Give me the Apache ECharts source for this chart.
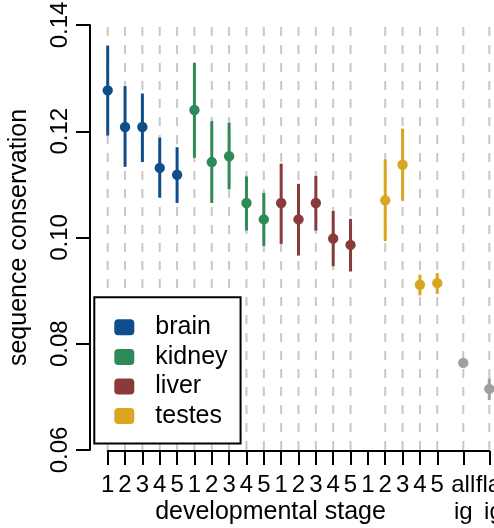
<!DOCTYPE html>
<html>
<head>
<meta charset="utf-8">
<script src="https://cdn.jsdelivr.net/npm/echarts@6/dist/echarts.min.js"></script>
<style>
  html, body { margin: 0; padding: 0; background: #fff; }
  #chart { width: 494px; height: 528px; }
</style>
</head>
<body>
<div id="chart"></div>
<script>
// Sequence conservation by developmental stage: mean with interval per tissue.
const tissues = ['brain', 'kidney', 'liver', 'testes'];
const stageLabels = ['1', '2', '3', '4', '5'];

const brainMean  = [0.1277, 0.1208, 0.1208, 0.1131, 0.1118];
const brainLow   = [0.1192, 0.1133, 0.1142, 0.1075, 0.1065];
const brainHigh  = [0.1361, 0.1285, 0.1271, 0.1188, 0.1170];

const kidneyMean = [0.1240, 0.1142, 0.1153, 0.1065, 0.1034];
const kidneyLow  = [0.1150, 0.1065, 0.1091, 0.1013, 0.0984];
const kidneyHigh = [0.1329, 0.1219, 0.1216, 0.1115, 0.1084];

const liverMean  = [0.1065, 0.1034, 0.1065, 0.0998, 0.0986];
const liverLow   = [0.0988, 0.0966, 0.1013, 0.0946, 0.0936];
const liverHigh  = [0.1139, 0.1101, 0.1116, 0.1050, 0.1035];

const testesMean = [null, 0.1070, 0.1137, 0.0911, 0.0914];
const testesLow  = [null, 0.0993, 0.1069, 0.0891, 0.0894];
const testesHigh = [null, 0.1147, 0.1205, 0.0930, 0.0933];

const summaryLabels = [['all', 'ig'], ['flank', 'ig']];
const summaryMean = [0.0764, 0.0715];
const summaryLow  = [0.0760, 0.0694];
const summaryHigh = [0.0768, 0.0735];

const yTicks = [0.06, 0.08, 0.10, 0.12, 0.14];

const tissueColors = ['#104E8B', '#2E8B57', '#8B3A3A', '#DAA520'];
const summaryColor = '#A0A0A0';
const FONT = 'Liberation Sans, Arial, Helvetica, sans-serif';

// x layout: five stages per tissue, summary columns after a wider step
const stageX = (t, s) => t * stageLabels.length + s + 1;
const lastStageX = stageX(tissues.length - 1, stageLabels.length - 1);
const summaryX = summaryLabels.map((_, i) => lastStageX + 1.5 * (i + 1));

const means = [brainMean, kidneyMean, liverMean, testesMean];
const lows  = [brainLow, kidneyLow, liverLow, testesLow];
const highs = [brainHigh, kidneyHigh, liverHigh, testesHigh];

const tickValues = [];
const tickText = {};
tissues.forEach((_, t) => stageLabels.forEach((lab, s) => {
  const x = stageX(t, s); tickValues.push(x); tickText[x] = lab;
}));
summaryX.forEach((x, i) => {
  tickValues.push(x);
  const [a, b] = summaryLabels[i];
  // the last column sits at the plot edge, so its label block is kept narrow
  tickText[x] = i === summaryX.length - 1 ? '{l|' + a + '}\n{r|' + b + '}' : a + '\n' + b;
});

function seriesData(t) {
  const out = [];
  means[t].forEach((m, s) => {
    if (m != null) out.push([stageX(t, s), m, lows[t][s], highs[t][s]]);
  });
  return out;
}
const summaryData = summaryX.map((x, i) => [x, summaryMean[i], summaryLow[i], summaryHigh[i]]);

const guideXs = [];
tissues.forEach((_, t) => seriesData(t).forEach(d => guideXs.push(d[0])));
summaryData.forEach(d => guideXs.push(d[0]));

const yMin = yTicks[0], yMax = yTicks[yTicks.length - 1];
const xMin = stageX(0, 0), xMax = summaryX[summaryX.length - 1];

function errorBar(color) {
  return function (params, api) {
    const x = api.value(0);
    const pm = api.coord([x, api.value(1)]);
    const pl = api.coord([x, api.value(2)]);
    const ph = api.coord([x, api.value(3)]);
    return {
      type: 'group',
      children: [
        { type: 'line', shape: { x1: pl[0], y1: pl[1], x2: ph[0], y2: ph[1] },
          style: { stroke: color, lineWidth: 3 } },
        { type: 'circle', shape: { cx: pm[0], cy: pm[1], r: 5.2 },
          style: { fill: color } }
      ]
    };
  };
}

const series = [{
  name: 'guides',
  type: 'custom',
  z: 1,
  silent: true,
  data: guideXs.map(x => [x]),
  renderItem: function (params, api) {
    const x = api.value(0);
    const top = api.coord([x, yMax]);
    const bottom = api.coord([x, yMin]);
    return {
      type: 'line',
      shape: { x1: bottom[0], y1: bottom[1], x2: top[0], y2: top[1] },
      style: { stroke: '#C8C8C8', lineWidth: 2, lineDash: [9, 9] }
    };
  }
}];

tissues.forEach((name, t) => {
  series.push({
    name: name,
    type: 'custom',
    z: 3,
    itemStyle: { color: tissueColors[t] },
    data: seriesData(t),
    renderItem: errorBar(tissueColors[t])
  });
});
series.push({
  name: 'intergenic',
  type: 'custom',
  z: 3,
  itemStyle: { color: summaryColor },
  data: summaryData,
  renderItem: errorBar(summaryColor)
});

const chart = echarts.init(document.getElementById('chart'), null, { renderer: 'canvas' });
chart.setOption({
  animation: false,
  backgroundColor: '#fff',
  textStyle: { fontFamily: FONT, color: '#000' },
  grid: { left: 107.7, right: 4.7, top: 25, bottom: 78, outerBoundsMode: 'none', containLabel: false },
  xAxis: {
    type: 'value',
    min: xMin,
    max: xMax,
    offset: 1,
    splitLine: { show: false },
    axisLine: { show: true, lineStyle: { color: '#000', width: 2 } },
    axisTick: { show: true, length: 14, lineStyle: { color: '#000', width: 2 }, customValues: tickValues },
    axisLabel: {
      customValues: tickValues,
      showMinLabel: true,
      showMaxLabel: true,
      hideOverlap: false,
      margin: 21,
      fontSize: 24,
      lineHeight: 27,
      color: '#000',
      fontFamily: FONT,
      rich: {
        l: { width: 27, align: 'left', fontSize: 24, lineHeight: 27, fontFamily: FONT, color: '#000' },
        r: { width: 27, align: 'right', fontSize: 24, lineHeight: 27, fontFamily: FONT, color: '#000' }
      },
      formatter: v => tickText[v] ?? ''
    }
  },
  yAxis: {
    type: 'value',
    min: yMin,
    max: yMax,
    interval: 0.02,
    offset: 17.7,
    name: 'sequence conservation',
    nameLocation: 'middle',
    nameRotate: 90,
    nameGap: 58,
    nameTextStyle: { fontSize: 25, color: '#000', fontFamily: FONT },
    splitLine: { show: false },
    axisLine: { show: true, lineStyle: { color: '#000', width: 2 } },
    axisTick: { show: true, length: 14, lineStyle: { color: '#000', width: 2 } },
    axisLabel: {
      rotate: 90,
      margin: 18,
      fontSize: 24,
      color: '#000',
      fontFamily: FONT,
      showMinLabel: true,
      showMaxLabel: true,
      formatter: v => v.toFixed(2)
    }
  },
  legend: {
    data: tissues,
    orient: 'vertical',
    left: 94.3,
    top: 297.3,
    icon: 'roundRect',
    itemWidth: 20,
    itemHeight: 16,
    itemGap: 4.6,
    padding: [17.5, 13, 15, 20],
    borderColor: '#000',
    borderWidth: 2,
    borderRadius: 0,
    backgroundColor: '#fff',
    selectedMode: false,
    textStyle: { fontSize: 25, lineHeight: 20, color: '#000', fontFamily: FONT, padding: [0, 0, 0, 16] }
  },
  graphic: [{
    type: 'text',
    x: 270.5,
    y: 512,
    style: {
      text: 'developmental stage',
      fontSize: 25,
      fontFamily: FONT,
      fill: '#000',
      textAlign: 'center',
      textVerticalAlign: 'middle'
    }
  }],
  series: series
});
</script>
</body>
</html>
